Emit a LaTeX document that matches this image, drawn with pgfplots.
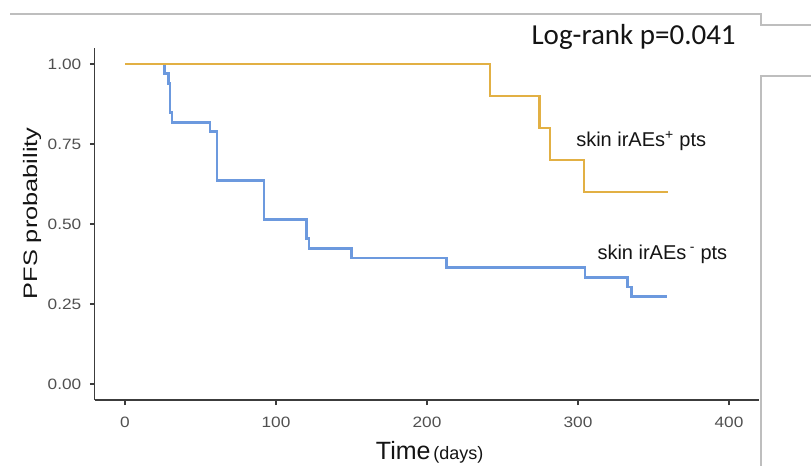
\documentclass[border=0pt]{standalone}
\usepackage{pgfplots}
\pgfplotsset{compat=1.18}
\usepackage{fontspec}
\setmainfont{Liberation Sans}
\newfontfamily\calibri{Carlito}
\usepackage{graphicx}
\definecolor{kmgold}{RGB}{226,176,68}
\definecolor{kmblue}{RGB}{108,153,222}
\definecolor{framegray}{RGB}{190,190,190}
\definecolor{axisgray}{RGB}{60,60,60}
\definecolor{ticktext}{RGB}{80,80,80}
\definecolor{labeltext}{RGB}{20,20,20}

\begin{document}
\begin{tikzpicture}[x=1pt,y=1pt]
\useasboundingbox (0,0) rectangle (811,466);
\fill[white] (0,0) rectangle (811,466);
\draw[framegray, line width=1.3pt] (10,452) -- (761,452) -- (761,441) -- (811,441);
\draw[framegray, line width=1.3pt] (811,390) -- (761,390) -- (761,0);
\begin{axis}[
  at={(94.8pt,66pt)}, anchor=south west,
  scale only axis, width=664.4pt, height=352pt,
  xmin=-20, xmax=420, ymin=-0.05, ymax=1.05,
  axis x line*=bottom, axis y line*=left,
  axis line style={axisgray, line width=1.3pt, -},
  xtick={0,100,200,300,400},
  ytick={0,0.25,0.5,0.75,1},
  tick align=outside,
  major tick length=5pt,
  tick style={axisgray, line width=1.3pt},
  /pgf/number format/assume math mode=true,
  ticklabel style={font=\fontsize{15}{15}\selectfont, text=ticktext},
  xticklabel style={yshift=-8pt},
  yticklabel style={xshift=-5pt},
  xticklabel={\scalebox{1.15}[1]{\pgfmathprintnumber{\tick}}},
  yticklabel={\scalebox{1.15}[1]{\pgfmathprintnumber[fixed,fixed zerofill,precision=2]{\tick}}},
  xlabel={{\fontsize{25}{25}\selectfont Time} {\fontsize{18}{18}\selectfont (days)}},
  ylabel={\scalebox{1.3}[1]{PFS probability}},
  every axis x label/.style={at={(axis description cs:0.504,-0.170)}, anchor=base, text=labeltext},
  every axis y label/.style={at={(axis description cs:-0.0945,0.53)}, rotate=90, anchor=center, font=\fontsize{19.5}{19.5}\selectfont, text=labeltext},
]
\addplot[kmblue, line width=2.7pt, const plot] coordinates {
  (0,1.000) (26.0,0.970) (28.7,0.939) (29.8,0.848) (31.1,0.818)
  (56.3,0.788) (60.9,0.636) (92.0,0.515) (120.3,0.455) (121.9,0.424)
  (150.1,0.394) (213.0,0.364) (304.6,0.333) (333.0,0.303) (335.6,0.273)
  (358.7,0.273)
};
\addplot[kmgold, line width=2.7pt, const plot] coordinates {
  (0,1.0) (241.7,0.9) (274.4,0.8) (281.5,0.7) (304.0,0.6) (359.8,0.6)
};
\node[anchor=base west, font=\fontsize{20}{20}\selectfont, text=labeltext] at (axis cs:296.5,0.7416) {skin irAEs\textsuperscript{+} pts};
\node[anchor=base west, font=\fontsize{20}{20}\selectfont, text=labeltext] at (axis cs:310.6,0.3897) {skin irAEs\,\textsuperscript{-} pts};
\end{axis}
\node[anchor=base west, font=\calibri\fontsize{29}{29}\selectfont, text=labeltext] at (528,421.7) {Log-rank p=0.041};
\end{tikzpicture}
\end{document}
